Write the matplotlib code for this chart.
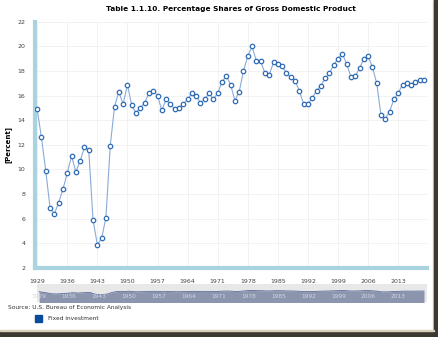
import matplotlib.pyplot as plt
import matplotlib.patches as patches
import numpy as np

years = list(range(1929, 2020))
share = [14.9, 12.6, 9.9, 6.9, 6.4, 7.3, 8.4, 9.7, 11.1, 9.8,
         10.7, 11.8, 11.6, 5.9, 3.9, 4.4, 6.1, 11.9, 15.1, 16.3,
         15.3, 16.9, 15.2, 14.6, 15.0, 15.4, 16.2, 16.4, 16.0, 14.8,
         15.7, 15.3, 14.9, 15.0, 15.3, 15.7, 16.2, 16.0, 15.4, 15.7,
         16.2, 15.7, 16.2, 17.1, 17.6, 16.9, 15.6, 16.3, 18.0, 19.2,
         20.0, 18.8, 18.8, 17.8, 17.7, 18.7, 18.6, 18.4, 17.8, 17.5,
         17.2, 16.4, 15.3, 15.3, 15.8, 16.4, 16.8, 17.4, 17.8, 18.5,
         19.0, 19.4, 18.6, 17.5, 17.6, 18.2, 19.0, 19.2, 18.3, 17.0,
         14.4, 14.1, 14.7, 15.7, 16.2, 16.9, 17.0, 16.9, 17.1, 17.3,
         17.3]
xticks = list(range(1929, 2014, 7))
yticks = list(range(2, 23, 2))

W, H = 439, 337
fig = plt.figure(figsize=(W / 100, H / 100), dpi=100)

def box(l, t, r, b):
    return [l / W, 1 - b / H, (r - l) / W, (b - t) / H]

ax = fig.add_axes(box(35, 21.7, 427, 268))
ax.plot(years, share, color='#8aabd8', lw=0.8, marker='o', ms=3.2,
        mfc='white', mec='#2f6cb5', mew=0.9, zorder=3)
ax.set_xlim(1928.5, 2019.7)
ax.set_ylim(2, 22)
ax.set_xticks(xticks)
ax.set_yticks(yticks)
ax.grid(True, color='#f0f0f0', lw=0.6)
ax.tick_params(length=0, labelsize=4.5, colors='#444444')
ax.tick_params(axis='y', pad=7)
ax.tick_params(axis='x', pad=8)
for s in ['top', 'right']:
    ax.spines[s].set_visible(False)
ax.spines['left'].set_color('#a9d3df')
ax.spines['left'].set_linewidth(3)
ax.spines['bottom'].set_color('#a9d3df')
ax.spines['bottom'].set_linewidth(3)
ax.set_ylabel('[Percent]', fontsize=5, fontweight='bold', labelpad=4)
ax.set_title('Table 1.1.10. Percentage Shares of Gross Domestic Product',
             fontsize=5.3, fontweight='bold', pad=8)

# navigator strip
nav = fig.add_axes(box(37, 284, 427, 302))
nav.set_facecolor('#e8e8e8')
nav.fill_between(years, share, -40, color='#8c95ae', lw=0)
nav.plot(years, share, color='#5b6c9a', lw=0.6)
nav.set_xlim(1928.5, 2019.7)
nav.set_ylim(-24, 44)
nav.set_xticks([])
nav.set_yticks([])
for s in nav.spines.values():
    s.set_visible(False)
for yr in xticks:
    nav.text(yr, 0.3, str(yr), fontsize=4.2, color='#d3d7e3',
             ha='center', va='center', transform=nav.get_xaxis_transform())

fig.text(8 / W, 1 - 308 / H, 'Source: U.S. Bureau of Economic Analysis',
         fontsize=4.2, color='#333333', va='center')
fig.patches.append(patches.Rectangle((35 / W, 1 - 322 / H), 7 / W, 7 / H,
                                     transform=fig.transFigure,
                                     color='#0b4b9c'))
fig.text(48 / W, 1 - 318.5 / H, 'Fixed investment', fontsize=4.2,
         color='#333333', va='center')

# frame shadow
fig.patches.append(patches.Rectangle((433 / W, 0), 1 / W, 1,
                                     transform=fig.transFigure,
                                     color='#d8cfb8'))
fig.patches.append(patches.Rectangle((434 / W, 0), 5 / W, 1,
                                     transform=fig.transFigure,
                                     color='#3b3830'))
fig.patches.append(patches.Rectangle((0, 0), 1, 6 / H,
                                     transform=fig.transFigure,
                                     color='#3b3830'))
fig.patches.append(patches.Rectangle((0, 6 / H), 434 / W, 1 / H,
                                     transform=fig.transFigure,
                                     color='#d8cfb8'))

fig.savefig('out.png', dpi=100)
